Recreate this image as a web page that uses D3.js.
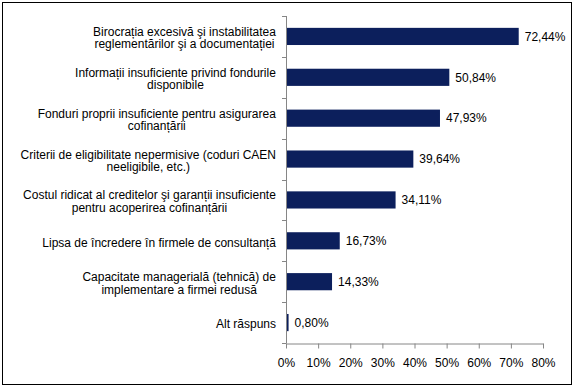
<!DOCTYPE html>
<html>
<head>
<meta charset="utf-8">
<script src="https://cdn.jsdelivr.net/npm/d3@7"></script>
<style>
  body { margin: 0; background: #fff; }
  text { font-family: "Liberation Sans", Arial, sans-serif; font-size: 12px; fill: #000; }
</style>
</head>
<body>
<div id="chart"></div>
<script>
// categories (each entry = lines of the label), top to bottom
var categories = [
    ["Birocrația excesivă şi instabilitatea", "reglementărilor şi a documentației"],
    ["Informații insuficiente privind fondurile", "disponibile"],
    ["Fonduri proprii insuficiente pentru asigurarea", "cofinanțării"],
    ["Criterii de eligibilitate nepermisive (coduri CAEN", "neeligibile, etc.)"],
    ["Costul ridicat al creditelor şi garanții insuficiente", "pentru acoperirea cofinanțării"],
    ["Lipsa de încredere în firmele de consultanță"],
    ["Capacitate managerială (tehnică) de", "implementare a firmei redusă"],
    ["Alt răspuns"]
];
var values = [72.44, 50.84, 47.93, 39.64, 34.11, 16.73, 14.33, 0.80];
var xTicks = [0, 10, 20, 30, 40, 50, 60, 70, 80];

var width = 574, height = 388;
var plot = {left: 286, right: 543, top: 16, bottom: 343};

var svg = d3.select("#chart").append("svg")
    .attr("width", width)
    .attr("height", height);

//Outer frame
svg.append("rect")
    .attr("x", 2.5).attr("y", 2.5)
    .attr("width", 569).attr("height", 382)
    .attr("fill", "#fff")
    .attr("stroke", "#000");

var x = d3.scaleLinear().domain([0, 80]).range([plot.left, plot.right]);
var y = d3.scaleBand().domain(d3.range(values.length))
    .range([plot.top, plot.bottom])
    .paddingInner(0.58).paddingOuter(0.29);

//Bars
svg.append("g").selectAll("rect")
    .data(values)
    .enter().append("rect")
    .attr("x", x(0))
    .attr("y", function(d, i) { return y(i); })
    .attr("width", function(d) { return x(d) - x(0); })
    .attr("height", y.bandwidth())
    .attr("fill", "#0c1f5c");

//Value labels
svg.append("g").selectAll("text")
    .data(values)
    .enter().append("text")
    .attr("x", function(d) { return x(d) + 6; })
    .attr("y", function(d, i) { return y(i) + y.bandwidth() / 2; })
    .attr("dy", "0.35em")
    .text(function(d) { return d.toFixed(2).replace(".", ",") + "%"; });

//Axes
var band = (plot.bottom - plot.top) / values.length;
var yAxis = svg.append("g").attr("class", "axis");
yAxis.append("line")
    .attr("x1", plot.left + 0.5).attr("x2", plot.left + 0.5)
    .attr("y1", plot.top).attr("y2", plot.bottom)
    .attr("stroke", "#868686");
yAxis.selectAll("line.tick")
    .data(d3.range(values.length + 1))
    .enter().append("line")
    .attr("class", "tick")
    .attr("x1", plot.left - 4).attr("x2", plot.left + 0.5)
    .attr("y1", function(d) { return Math.round(plot.top + d * band) + 0.5; })
    .attr("y2", function(d) { return Math.round(plot.top + d * band) + 0.5; })
    .attr("stroke", "#868686");

var xAxis = svg.append("g")
    .attr("transform", "translate(0," + (plot.bottom + 0.5) + ")")
    .call(d3.axisBottom(x).tickValues(xTicks).tickSize(5).tickSizeOuter(0)
        .tickFormat(function(d) { return d + "%"; }));
xAxis.select(".domain").attr("stroke", "#868686");
xAxis.selectAll(".tick line").attr("stroke", "#868686");
xAxis.selectAll(".tick text")
    .attr("y", 15)
    .style("font-family", "'Liberation Sans', Arial, sans-serif")
    .style("font-size", "12px")
    .attr("fill", "#000");

//Category labels: lines centered within block, block right-aligned
var labelRight = 276, lineH = 12.5;
var labels = svg.append("g").selectAll("text")
    .data(categories)
    .enter().append("text")
    .attr("text-anchor", "middle");

labels.each(function(lines, i) {
    var t = d3.select(this);
    var cy = y(i) + y.bandwidth() / 2 + 1.5;
    lines.forEach(function(line, k) {
        t.append("tspan")
            .attr("x", 0)
            .attr("y", cy + (k - (lines.length - 1) / 2) * lineH)
            .attr("dy", "0.35em")
            .text(line);
    });
    var w = this.getBBox().width;
    t.selectAll("tspan").attr("x", labelRight - w / 2);
});
</script>
</body>
</html>
